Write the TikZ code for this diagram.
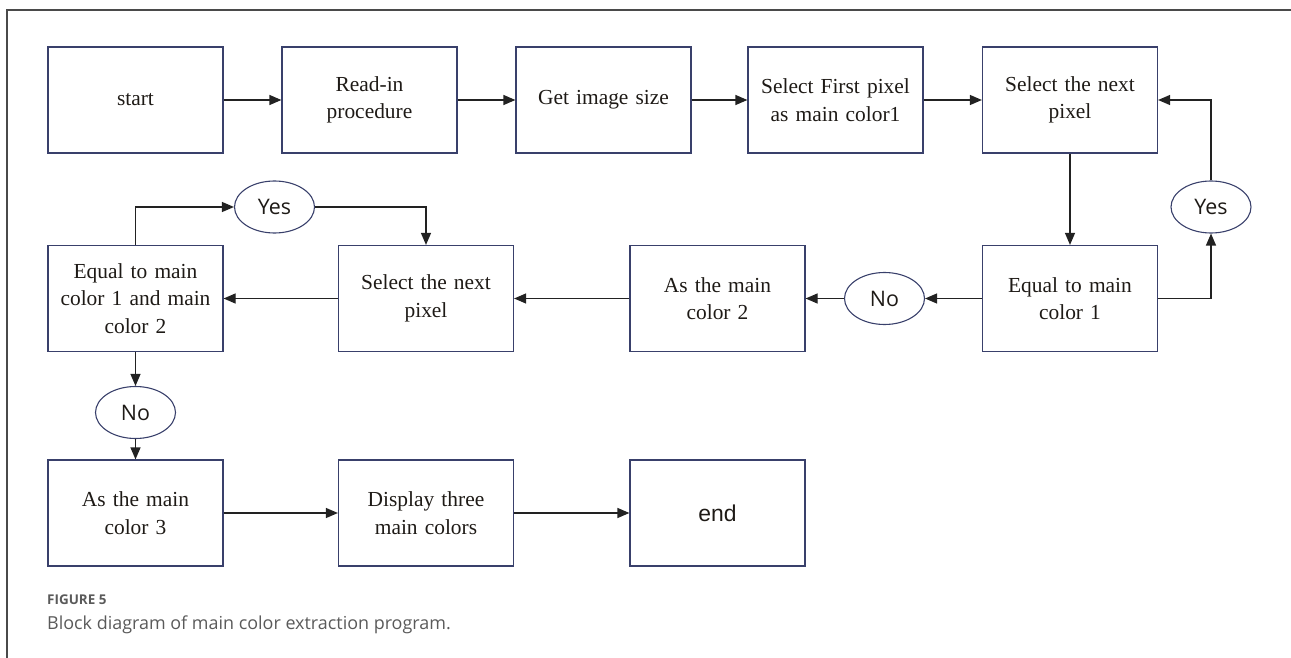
\documentclass[tikz,border=0pt]{standalone}
\usepackage{fontspec}
\setmainfont{Liberation Serif}
\newfontfamily\ellfont{Open Sans}
\newfontfamily\endfont{Liberation Sans}
\newfontfamily\capfont{Open Sans}
\usetikzlibrary{arrows.meta,shapes.geometric}
\definecolor{boxc}{HTML}{39406B}
\definecolor{linec}{HTML}{222222}
\definecolor{txtc}{HTML}{1E1A16}
\definecolor{framec}{HTML}{4A4A4A}
\definecolor{capc}{HTML}{5A5A5A}
\tikzset{
  blk/.style={draw=boxc, line width=1.2bp, minimum width=175bp, minimum height=106bp,
    text width=172bp, align=center, inner sep=0pt, text=txtc,
    font=\fontsize{21.5}{27.5}\selectfont},
  oval/.style={ellipse, draw=boxc, line width=1.1bp, minimum width=80bp, minimum height=52bp,
    inner sep=0pt, text=txtc, font=\ellfont\fontsize{21.5}{24}\selectfont},
  arr/.style={draw=linec, line width=1.2bp, -{Triangle[length=12bp,width=10bp]}},
}
\begin{document}
\begin{tikzpicture}[x=1bp,y=-1bp]
\useasboundingbox (0,0) rectangle (1291,658);
\draw[framec, line width=1.4bp] (7,658) -- (7,10) -- (1291,10);
% row 1
\node[blk] (start) at (135.5,100) {start};
\node[blk] (read)  at (369.5,100) {Read-in\\procedure};
\node[blk] (size)  at (603.5,100) {Get image size};
\node[blk] (first) at (835.5,100) {Select First pixel\\as main color1};
\node[blk] (nextA) at (1070,100) {Select the next\\pixel};
% row 2
\node[blk] (eq1)   at (1070,298.5) {Equal to main\\color 1};
\node[blk] (col2)  at (717.5,298.5) {As the main\\color 2};
\node[blk] (nextB) at (426,298.5) {Select the next\\pixel};
\node[blk] (eq12)  at (135.5,298.5) {Equal to main\\color 1 and main\\color 2};
% row 3
\node[blk] (col3)  at (135.5,513) {As the main\\color 3};
\node[blk] (disp)  at (426,513) {Display three\\main colors};
\node[blk, font=\endfont\fontsize{23}{26}\selectfont] (end) at (717.5,513) {end};
% ovals
\node[oval] (yesR) at (1211,207) {Yes};
\node[oval] (noM)  at (884.5,298.5) {No};
\node[oval] (yesL) at (274.5,207) {Yes};
\node[oval] (noL)  at (135.5,412.5) {No};
% connectors
\draw[arr] (start) -- (read);
\draw[arr] (read) -- (size);
\draw[arr] (size) -- (first);
\draw[arr] (first) -- (nextA);
\draw[arr] (nextA) -- (eq1);
\draw[arr] (eq1.east) -| (yesR.south);
\draw[arr] (yesR.north) |- (nextA.east);
\draw[arr] (eq1) -- (noM);
\draw[arr] (noM) -- (col2);
\draw[arr] (col2) -- (nextB);
\draw[arr] (nextB) -- (eq12);
\draw[arr] (eq12.north) |- (yesL.west);
\draw[arr] (yesL.east) -| (nextB.north);
\draw[arr] (eq12) -- (noL);
\draw[arr] (noL) -- (col3);
\draw[arr] (col3) -- (disp);
\draw[arr] (disp) -- (end);
% caption
\node[anchor=west, inner sep=0pt, text=capc, font=\capfont\bfseries\fontsize{13.5}{16}\selectfont] (figlbl) at (47,600) {FIGURE 5};
\node[anchor=west, inner sep=0pt, text=capc, font=\capfont\fontsize{18}{22}\selectfont] (figcap) at (47,625) {Block diagram of main color extraction program.};
\end{tikzpicture}
\end{document}
